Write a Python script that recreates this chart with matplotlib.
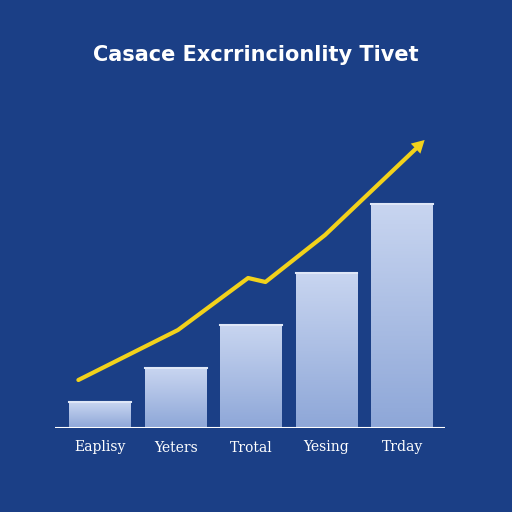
import numpy as np
import matplotlib.pyplot as plt

categories = ['Eaplisy', 'Yeters', 'Trotal', 'Yesing', 'Trday']
values = [26, 60, 103, 155, 224]
trend_x = [-0.29, 1.03, 1.96, 2.19, 2.98, 4.3]
trend_y = [48, 98, 150, 146, 193, 288]

bg = '#1b3f86'
fig = plt.figure(figsize=(5.12, 5.12), dpi=100, facecolor=bg)
ax = fig.add_axes([55/512, 84/512, 390/512, 300/512])
ax.set_facecolor(bg)
ax.set_xlim(-0.6, 4.57)
ax.set_ylim(0, 300)

grad = np.linspace(0, 1, 100).reshape(-1, 1)
from matplotlib.colors import LinearSegmentedColormap
cmap = LinearSegmentedColormap.from_list('b', ['#8ea7d8', '#c8d5f0'])
w = 0.82
for i, v in enumerate(values):
    ax.imshow(grad, extent=[i - w/2, i + w/2, 0, v], origin='lower', cmap=cmap,
              aspect='auto', zorder=2)
    ax.plot([i - w/2, i + w/2], [v, v], color='#dfe7f7', lw=1.5, zorder=3)

ax.plot(trend_x[:-1] + [trend_x[-1] - 0.12], trend_y[:-1] + [trend_y[-1] - 9],
        color='#f2d21b', lw=3, solid_capstyle='round', zorder=4)
ax.annotate('', xy=(trend_x[-1], trend_y[-1]), xytext=(trend_x[-2], trend_y[-2]),
            arrowprops=dict(arrowstyle='-|>,head_length=0.9,head_width=0.5',
                            color='#f2d21b', lw=0, shrinkA=0, shrinkB=0), zorder=5)

ax.axhline(0, color='white', lw=1.5, zorder=3)
for s in ax.spines.values():
    s.set_visible(False)
ax.set_xticks(range(len(categories)))
ax.set_xticklabels(categories, color='white', fontsize=10, family='DejaVu Serif')
ax.tick_params(length=0, pad=9)
ax.set_yticks([])

fig.text(0.5, 1 - 55/512, 'Casace Excrrincionlity Tivet', color='white',
         fontsize=15, fontweight='bold', ha='center', va='center')
fig.savefig('out.png', dpi=100, facecolor=bg)
